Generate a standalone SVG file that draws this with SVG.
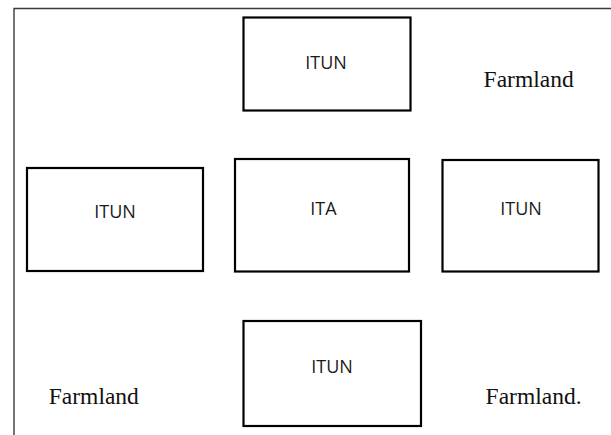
<svg xmlns="http://www.w3.org/2000/svg" width="611" height="435" viewBox="0 0 611 435">
  <style>
    .box { fill: #ffffff; stroke: #000000; stroke-width: 2.2; }
    .lbl { font-family: "Open Sans", "Liberation Sans", sans-serif; font-size: 18px; fill: #1a1a1a; text-anchor: middle; }
    .farm { font-family: "Liberation Serif", "Times New Roman", serif; font-size: 23.5px; fill: #111111; }
    .frame { fill: none; stroke: #3a3a3a; stroke-width: 1.4; }
  </style>
  <rect x="0" y="0" width="611" height="435" fill="#ffffff"/>
  <!-- page frame: top and left edges -->
  <path class="frame" d="M14 435 V8.5 H611"/>

  <g id="itun-north">
    <rect class="box" x="243.5" y="17.5" width="167" height="93"/>
    <text class="lbl" x="326" y="69">ITUN</text>
  </g>
  <g id="itun-west">
    <rect class="box" x="27" y="168" width="176" height="103"/>
    <text class="lbl" x="115" y="218">ITUN</text>
  </g>
  <g id="ita-center">
    <rect class="box" x="235" y="159" width="174" height="112.5"/>
    <text class="lbl" x="323.5" y="215">ITA</text>
  </g>
  <g id="itun-east">
    <rect class="box" x="442.5" y="160" width="156" height="111.5"/>
    <text class="lbl" x="521" y="215">ITUN</text>
  </g>
  <g id="itun-south">
    <rect class="box" x="243.5" y="321" width="177.5" height="105"/>
    <text class="lbl" x="332" y="373">ITUN</text>
  </g>

  <g id="connectors"></g>

  <text class="farm" x="483.6" y="87">Farmland</text>
  <text class="farm" x="48.8" y="404">Farmland</text>
  <text class="farm" x="485.6" y="404">Farmland.</text>
</svg>
